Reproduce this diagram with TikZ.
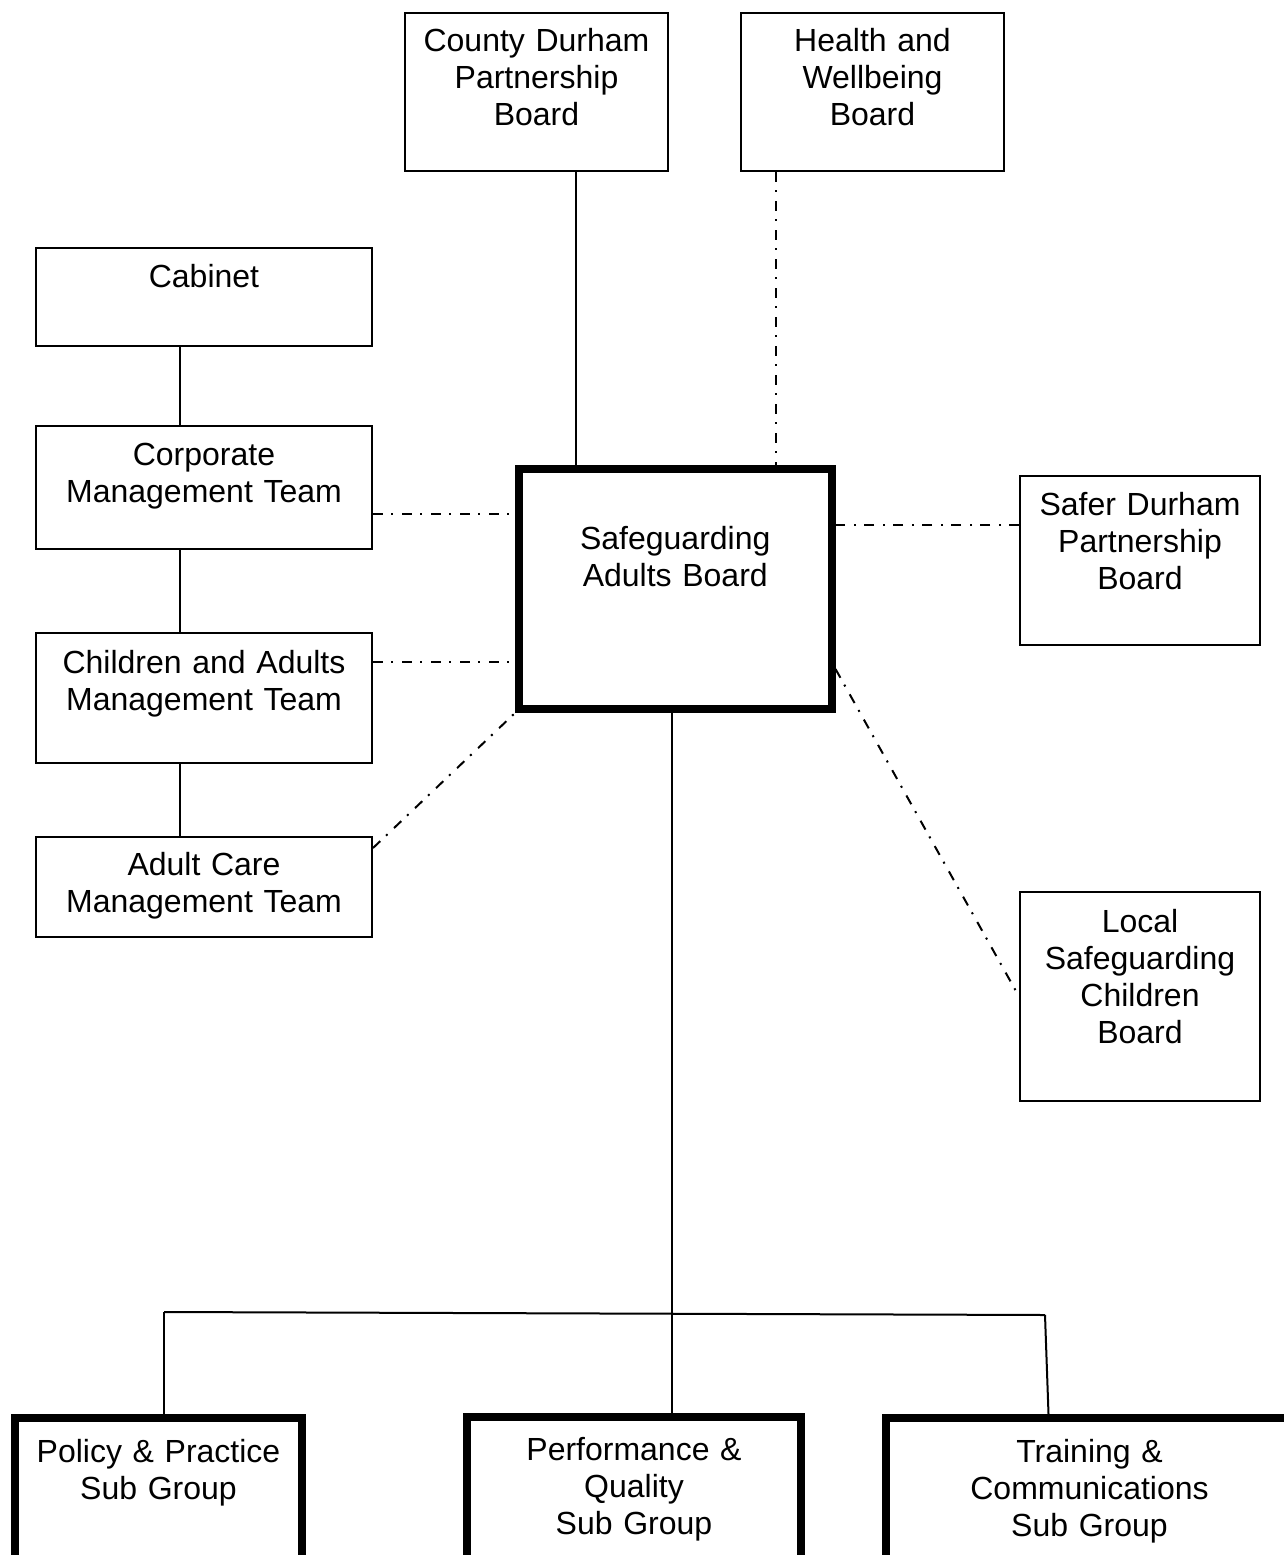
\documentclass[tikz,border=0pt]{standalone}
\usepackage{fontspec}
\setmainfont{Liberation Sans}
\usepackage{tikz}
\usetikzlibrary{positioning,calc}

\begin{document}
\begin{tikzpicture}[
        x=1pt, y=-1pt,
        unit/.style={rectangle, draw, line width=2pt, inner sep=0pt, align=center, anchor=north west, font=\fontsize{32}{37}\selectfont},
        board/.style={unit, line width=8pt},
        tie/.style={line width=2pt},
        link/.style={line width=2pt, dash pattern=on 10pt off 8pt on 2pt off 9pt}
    ]
        \useasboundingbox (0,0) rectangle (1284,1555);
        \clip (0,0) rectangle (1284,1555);

        % Boards at the top
        \node[unit, text width=263pt, text height=39pt, text depth=119pt] (county) at (404,12) {County Durham\\Partnership\\Board};
        \node[unit, text width=263pt, text height=39pt, text depth=119pt] (health) at (740,12) {Health and\\Wellbeing\\Board};

        % Council chain
        \node[unit, text width=336pt, text height=39pt, text depth=59pt] (cabinet) at (35,247) {Cabinet};
        \node[unit, text width=336pt, text height=39pt, text depth=84pt] (corporate) at (35,425) {Corporate\\Management Team};
        \node[unit, text width=336pt, text height=40pt, text depth=90pt] (childadult) at (35,632) {Children and Adults\\Management Team};
        \node[unit, text width=336pt, text height=38pt, text depth=62pt] (adultcare) at (35,836) {Adult Care\\Management Team};

        % Safeguarding Adults Board
        \node[board, text width=312.5pt, text height=80pt, text depth=160pt] (sab) at (515,465) {Safeguarding\\Adults Board};

        % Partner boards
        \node[unit, text width=240pt, text height=39pt, text depth=130pt] (safer) at (1019,475) {Safer Durham\\Partnership\\Board};
        \node[unit, text width=240pt, text height=40pt, text depth=169pt] (lscb) at (1019,891) {Local\\Safeguarding\\Children\\Board};

        % Sub groups
        \node[board, text width=287pt, text height=44pt, text depth=101pt] (policy) at (11,1414) {Policy \& Practice\\Sub Group};
        \node[board, text width=334pt, text height=43pt, text depth=102pt] (performance) at (463,1413) {Performance \&\\Quality\\Sub Group};
        \node[board, text width=408pt, text height=44pt, text depth=101pt] (training) at (881.5,1414) {Training \&\\Communications\\Sub Group};

        % Solid links
        \draw[tie] ([xshift=39.5pt]county.south) -- ([xshift=39.5pt]county.south |- sab.north);
        \draw[tie] ([xshift=-24pt]cabinet.south) -- ([xshift=-24pt]corporate.north);
        \draw[tie] ([xshift=-24pt]corporate.south) -- ([xshift=-24pt]childadult.north);
        \draw[tie] ([xshift=-24pt]childadult.south) -- ([xshift=-24pt]adultcare.north);

        % Dotted links
        \draw[link] ([xshift=-96.5pt]health.south) -- ([xshift=-96.5pt]health.south |- sab.north);
        \draw[link] ([yshift=-26.5pt]corporate.east) -- ([yshift=-26.5pt]corporate.east -| sab.west);
        \draw[link] ([yshift=36pt]childadult.east) -- ([yshift=36pt]childadult.east -| sab.west);
        \draw[link] ([yshift=-12pt]adultcare.north east) -- (sab.south west);
        \draw[link] ([yshift=35.5pt]safer.west) -- ([yshift=35.5pt]safer.west -| sab.east);
        \draw[link] ([yshift=-80pt]sab.east) -- (lscb.west);

        % Sub group tree
        \coordinate (barL) at (164,1312);
        \coordinate (barR) at (1045,1315);
        \draw[tie] ([xshift=-3pt]sab.south) -- ([xshift=-3pt]sab.south |- performance.north);
        \draw[tie] (barL) -- (barR);
        \draw[tie] (barL) -- ([xshift=5.5pt]policy.north);
        \draw[tie] (barR) -- ([xshift=-41pt]training.north);

    \end{tikzpicture}
\end{document}
